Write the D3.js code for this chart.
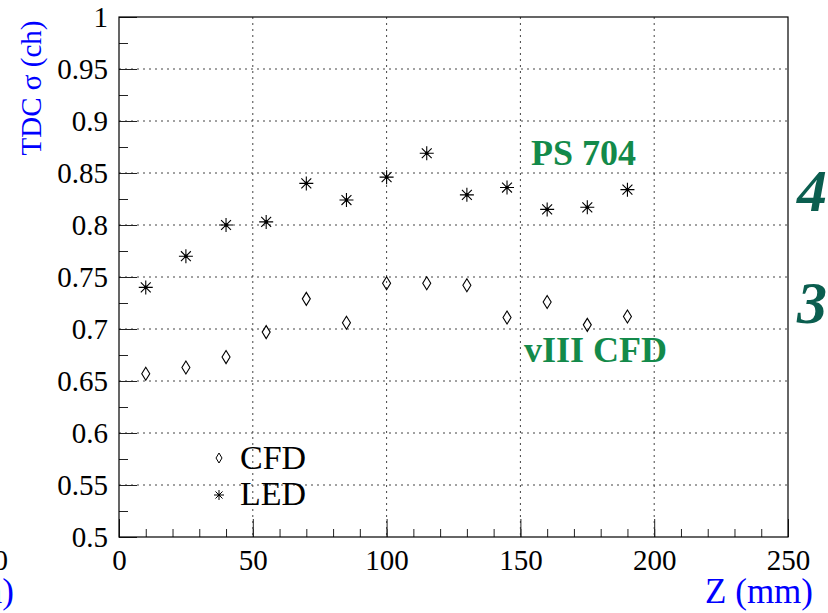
<!DOCTYPE html>
<html>
<head>
<meta charset="utf-8">
<script src="https://cdn.jsdelivr.net/npm/d3@7"></script>
<style>
  body { margin: 0; background: #fff; }
  svg { display: block; }
  svg text { font-family: "Liberation Serif", "Times New Roman", serif; }
</style>
</head>
<body>
<svg id="chart" width="828" height="613"></svg>
<script>
// measurement positions along Z (mm)
const zPos = [10, 25, 40, 55, 70, 85, 100, 115, 130, 145, 160, 175, 190];
// TDC sigma (ch) for the two discriminators
const cfdVals = [0.657, 0.663, 0.673, 0.697, 0.729, 0.706, 0.744, 0.744, 0.742, 0.711, 0.726, 0.704, 0.712];
const ledVals = [0.740, 0.770, 0.800, 0.803, 0.840, 0.824, 0.846, 0.869, 0.829, 0.836, 0.815, 0.817, 0.834];
const xTicks = [0, 50, 100, 150, 200, 250];
const yTicks = [0.5, 0.55, 0.6, 0.65, 0.7, 0.75, 0.8, 0.85, 0.9, 0.95, 1];

const svg = d3.select("#chart");
const padL = 119, padR = 788, padT = 17, padB = 537;

const x = d3.scaleLinear().domain([0, 250]).range([padL, padR]);
const y = d3.scaleLinear().domain([0.5, 1]).range([padB, padT]);

// grid (dotted) at the major ticks
const grid = svg.append("g").attr("stroke", "#444").attr("stroke-width", 1).attr("stroke-dasharray", "2,4");
grid.selectAll(".gx").data(xTicks.slice(1, -1)).enter().append("line")
  .attr("x1", d => x(d)).attr("x2", d => x(d)).attr("y1", padT).attr("y2", padB);
grid.selectAll(".gy").data(yTicks.slice(1, -1)).enter().append("line")
  .attr("x1", padL).attr("x2", padR).attr("y1", d => y(d)).attr("y2", d => y(d));

// axes, ticks pointing inward
const xAxis = svg.append("g").attr("transform", `translate(0,${padB})`)
  .call(d3.axisBottom(x).tickValues(xTicks).tickSize(-18).tickFormat(d3.format("d")));
svg.append("g").attr("transform", `translate(0,${padB})`)
  .call(d3.axisBottom(x).tickValues(d3.range(0, 251, 10)).tickSize(-8).tickFormat(""));
const yAxis = svg.append("g").attr("transform", `translate(${padL},0)`)
  .call(d3.axisLeft(y).tickValues(yTicks).tickSize(-18).tickFormat(d => String(+d.toFixed(2))));
svg.append("g").attr("transform", `translate(${padL},0)`)
  .call(d3.axisLeft(y).tickValues(d3.range(0.5, 1.0001, 0.025)).tickSize(-9).tickFormat(""));

svg.selectAll(".domain").remove();
svg.selectAll(".tick line").attr("stroke", "#222");
svg.selectAll(".tick text").attr("fill", "#000").style("font-size", "29px")
  .style("font-family", "'Liberation Serif', serif");
xAxis.selectAll(".tick text").attr("dy", 0).attr("y", 33);
yAxis.selectAll(".tick text").attr("x", -11).attr("dy", "0.33em");

// frame
svg.append("rect").attr("x", padL).attr("y", padT).attr("width", padR - padL).attr("height", padB - padT)
  .attr("fill", "none").attr("stroke", "#000").attr("stroke-width", 1.2);

// markers
function diamondPath(w, h) {
  return `M0,${-h}L${w},0L0,${h}L${-w},0Z`;
}
function starPath(r) {
  const d = r * 0.7071;
  return `M${-r},0L${r},0M0,${-r}L0,${r}M${-d},${-d}L${d},${d}M${-d},${d}L${d},${-d}`;
}

const cfd = zPos.map((z, i) => ({ z: z, v: cfdVals[i] }));
const led = zPos.map((z, i) => ({ z: z, v: ledVals[i] }));

svg.append("g").selectAll("path").data(cfd).enter().append("path")
  .attr("transform", d => `translate(${x(d.z)},${y(d.v)})`)
  .attr("d", diamondPath(4, 6.5)).attr("fill", "none").attr("stroke", "#000").attr("stroke-width", 1.1);

const ledG = svg.append("g").selectAll("g").data(led).enter().append("g")
  .attr("transform", d => `translate(${x(d.z)},${y(d.v)})`);
ledG.append("path").attr("d", starPath(7)).attr("stroke", "#000").attr("stroke-width", 1.1);
ledG.append("circle").attr("r", 1.8).attr("fill", "#000");

// legend
svg.append("path").attr("transform", "translate(219,458)").attr("d", diamondPath(3, 5))
  .attr("fill", "none").attr("stroke", "#000").attr("stroke-width", 1);
const lg = svg.append("g").attr("transform", "translate(219,495)");
lg.append("path").attr("d", starPath(5)).attr("stroke", "#000").attr("stroke-width", 1);
lg.append("circle").attr("r", 1.3).attr("fill", "#000");
svg.append("text").attr("x", 240).attr("y", 469).attr("font-size", 34).text("CFD");
svg.append("text").attr("x", 240).attr("y", 505).attr("font-size", 34).text("LED");

// annotations
svg.append("text").attr("x", 531).attr("y", 165).attr("font-size", 36).attr("font-weight", "bold")
  .attr("fill", "#138a4a").text("PS 704");
svg.append("text").attr("x", 524).attr("y", 362).attr("font-size", 36).attr("font-weight", "bold")
  .attr("fill", "#138a4a").text("vIII CFD");
svg.append("text").attr("x", 797).attr("y", 211).attr("font-size", 60).attr("font-weight", "bold")
  .attr("font-style", "italic").attr("fill", "#0b5e4f").text("4");
svg.append("text").attr("x", 797).attr("y", 323).attr("font-size", 60).attr("font-weight", "bold")
  .attr("font-style", "italic").attr("fill", "#0b5e4f").text("3");

// axis titles
svg.append("text").attr("x", 813).attr("y", 603).attr("text-anchor", "end").attr("font-size", 35)
  .attr("fill", "#0000ff").text("Z (mm)");
svg.append("text").attr("transform", "translate(41,88) rotate(-90)").attr("text-anchor", "middle")
  .attr("font-size", 29).attr("fill", "#0000ff").text("TDC σ (ch)");

// pieces of the neighbouring pad that spill in at the left edge
svg.append("text").attr("x", 8).attr("y", 570).attr("text-anchor", "end").attr("font-size", 29).text("250");
svg.append("text").attr("x", 14).attr("y", 603).attr("text-anchor", "end").attr("font-size", 35)
  .attr("fill", "#0000ff").text("Z (mm)");
</script>
</body>
</html>
